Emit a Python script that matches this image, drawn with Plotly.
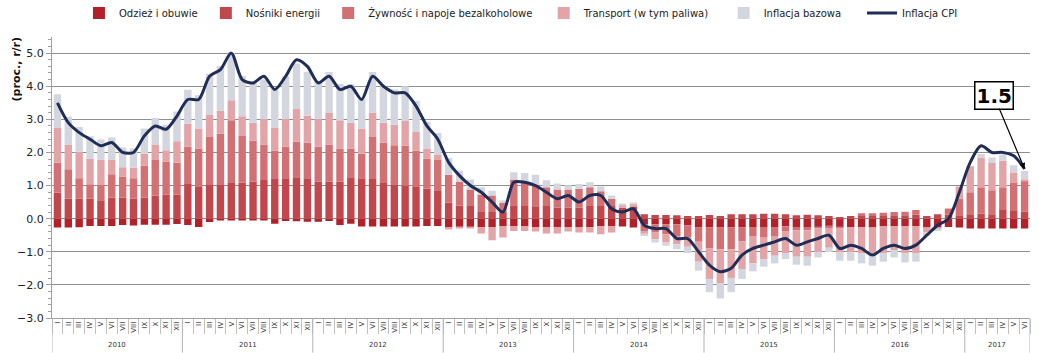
import plotly.graph_objects as go

# ---------------- data ----------------
months = ["I", "II", "III", "IV", "V", "VI", "VII", "VIII", "IX", "X", "XI", "XII"]
years = [2010, 2011, 2012, 2013, 2014, 2015, 2016, 2017]

odziez = [
    -0.27, -0.27, -0.26, -0.22, -0.22, -0.22, -0.19, -0.21, -0.18, -0.18, -0.18, -0.16,
    -0.19, -0.25, -0.10, -0.05, -0.03, -0.03, -0.03, -0.04, -0.15, -0.07, -0.08, -0.09,
    -0.09, -0.07, -0.19, -0.15, -0.24, -0.24, -0.24, -0.24, -0.24, -0.24, -0.22, -0.22,
    -0.25, -0.25, -0.25, -0.25, -0.25, -0.22, -0.22, -0.22, -0.25, -0.25, -0.25, -0.25,
    -0.25, -0.25, -0.22, -0.22, -0.24, -0.27, -0.17, -0.17, -0.17, -0.17, -0.20, -0.27,
    -0.27, -0.27, -0.27, -0.27, -0.25, -0.25, -0.25, -0.23, -0.25, -0.25, -0.25, -0.23,
    -0.25, -0.25, -0.25, -0.27, -0.22, -0.22, -0.22, -0.22, -0.27, -0.27, -0.25, -0.27,
    -0.30, -0.30, -0.30, -0.30, -0.30, -0.30,
]
nosniki = [
    0.78, 0.61, 0.61, 0.60, 0.56, 0.63, 0.63, 0.61, 0.63, 0.69, 0.72, 0.72,
    1.07, 0.96, 1.02, 1.02, 1.10, 1.09, 1.12, 1.19, 1.22, 1.22, 1.25, 1.22,
    1.12, 1.12, 1.12, 1.25, 1.22, 1.22, 1.10, 1.04, 1.00, 0.96, 0.90, 0.86,
    0.48, 0.40, 0.38, 0.20, 0.20, 0.20, 0.38, 0.38, 0.35, 0.38, 0.33, 0.33,
    0.33, 0.38, 0.38, 0.38, 0.33, 0.35, 0.13, 0.11, 0.11, 0.10, 0.08, 0.08,
    0.11, 0.08, 0.13, 0.13, 0.13, 0.15, 0.15, 0.13, 0.10, 0.12, 0.10, 0.08,
    0.05, 0.08, 0.10, 0.10, 0.10, 0.10, 0.10, 0.12, 0.08, 0.13, 0.12, 0.10,
    0.13, 0.15, 0.13, 0.26, 0.23, 0.22,
]
zywnosc = [
    0.91, 0.88, 0.61, 0.44, 0.46, 0.71, 0.64, 0.61, 0.97, 1.08, 1.01, 0.97,
    1.10, 1.16, 1.45, 1.55, 1.87, 1.41, 1.23, 1.05, 0.83, 0.95, 1.07, 1.07,
    1.05, 1.12, 1.00, 0.87, 0.75, 1.25, 1.19, 1.18, 1.20, 1.09, 0.92, 0.91,
    0.85, 0.71, 0.50, 0.53, 0.50, 0.28, 0.80, 0.70, 0.68, 0.57, 0.55, 0.55,
    0.57, 0.57, 0.45, 0.22, 0.00, 0.00, -0.20, -0.25, -0.30, -0.35, -0.35, -0.43,
    -0.63, -0.65, -0.65, -0.42, -0.27, -0.30, -0.27, -0.14, -0.10, -0.10, -0.05, -0.05,
    -0.05, 0.00, 0.06, 0.06, 0.08, 0.10, 0.11, 0.14, 0.00, 0.00, 0.19, 0.50,
    0.67, 0.80, 0.73, 0.69, 0.85, 0.92,
]
transport = [
    1.06, 0.75, 0.80, 0.78, 0.75, 0.45, 0.28, 0.32, 0.37, 0.47, 0.34, 0.65,
    0.70, 0.60, 0.66, 0.69, 0.61, 0.59, 0.55, 0.76, 0.69, 0.84, 0.99, 0.82,
    0.83, 0.95, 0.85, 0.78, 0.75, 0.74, 0.61, 0.62, 0.75, 0.57, 0.30, 0.15,
    -0.08, -0.05, -0.04, -0.20, -0.40, -0.35, -0.15, -0.15, -0.14, -0.20, -0.20, -0.14,
    -0.17, -0.17, -0.25, -0.20, 0.08, 0.10, -0.10, -0.20, -0.25, -0.25, -0.30, -0.60,
    -0.92, -1.04, -0.87, -0.83, -0.83, -0.67, -0.60, -0.68, -0.80, -0.80, -0.72, -0.60,
    -0.72, -0.77, -0.80, -0.85, -0.83, -0.73, -0.83, -0.83, -0.15, -0.05, 0.00, 0.37,
    0.78, 0.90, 0.82, 0.80, 0.30, 0.05,
]
bazowa = [
    1.01, 0.84, 0.75, 0.67, 0.62, 0.66, 0.60, 0.58, 0.75, 0.80, 0.77, 0.90,
    1.02, 1.01, 1.25, 1.35, 1.44, 1.22, 1.20, 1.20, 1.16, 1.29, 1.38, 1.33,
    1.16, 1.24, 1.10, 1.16, 0.89, 1.22, 1.10, 1.06, 1.05, 0.94, 0.80, 0.67,
    0.50, 0.34, 0.30, 0.22, 0.14, 0.07, 0.22, 0.30, 0.30, 0.21, 0.18, 0.13,
    0.15, 0.15, 0.14, 0.10, 0.03, 0.03, -0.05, -0.10, -0.10, -0.15, -0.19, -0.27,
    -0.40, -0.45, -0.43, -0.30, -0.24, -0.23, -0.23, -0.17, -0.24, -0.27, -0.15, -0.13,
    -0.25, -0.25, -0.30, -0.30, -0.25, -0.22, -0.27, -0.25, -0.10, -0.05, 0.00, 0.00,
    0.00, 0.10, 0.17, 0.19, 0.23, 0.25,
]
cpi = [
    3.5, 2.9, 2.6, 2.4, 2.2, 2.3, 2.0, 2.0, 2.5, 2.8, 2.7, 3.1,
    3.6, 3.6, 4.3, 4.5, 5.0, 4.2, 4.1, 4.3, 3.9, 4.3, 4.8, 4.6,
    4.1, 4.3, 3.9, 4.0, 3.6, 4.3, 4.0, 3.8, 3.8, 3.4, 2.8, 2.4,
    1.7, 1.3, 1.0, 0.8, 0.5, 0.2, 1.1, 1.1, 1.0, 0.8, 0.6, 0.7,
    0.5, 0.7, 0.7, 0.3, 0.2, 0.3, -0.2, -0.3, -0.3, -0.6, -0.6, -1.0,
    -1.4, -1.6, -1.5, -1.1, -0.9, -0.8, -0.7, -0.6, -0.8, -0.7, -0.6, -0.5,
    -0.9, -0.8, -0.9, -1.1, -0.9, -0.8, -0.9, -0.8, -0.5, -0.2, 0.0, 0.8,
    1.7, 2.2, 2.0, 2.0, 1.9, 1.5,
]
last_label = "1.5"

NB = "\u00a0"
series = [
    ("Odzież i obuwie", odziez, "#b2212a", 1),
    ("Nośniki energii", nosniki, "#c2474d", 1),
    ("Żywność i napoje bezalkoholowe", zywnosc, "#d27074", 2),
    ("Transport (w tym paliwa)", transport, "#e2a4a7", 3),
    ("Inflacja bazowa", bazowa, "#d3d6df", 5),
]

n = len(cpi)
x = list(range(n))
month_text = [months[i % 12] for i in range(n)]

fig = go.Figure()
for name, vals, color, pad in series:
    fig.add_trace(go.Bar(x=x, y=vals, name=name + NB * pad, marker_color=color,
                         marker_line_width=0, width=0.68))
fig.add_trace(go.Scatter(x=x, y=cpi, name="Inflacja CPI", mode="lines",
                         line=dict(color="#1f2d57", width=3, shape="spline", smoothing=0.8)))

# year separators and labels
shapes = []
annotations = []
for k, yr in enumerate(years):
    start = 12 * k
    idx = [i for i in x if start <= i < start + 12]
    shapes.append(dict(type="line", xref="x", yref="paper", x0=start - 0.5, x1=start - 0.5,
                       y0=0, y1=-0.123, line=dict(color="#b5b5b5", width=1)))
    annotations.append(dict(x=(idx[0] + idx[-1]) / 2, y=-0.095, xref="x", yref="paper",
                            text=str(yr), showarrow=False, yanchor="middle",
                            font=dict(size=7, color="#333333", family="DejaVu Sans")))
shapes.append(dict(type="line", xref="x", yref="paper", x0=n - 0.5, x1=n - 0.5,
                   y0=0, y1=-0.123, line=dict(color="#b5b5b5", width=1)))

annotations.append(dict(x=-0.036, y=0.886, xref="paper", yref="paper", xanchor="center",
                        yanchor="middle",
                        text="<b>(proc., r/r)</b>", textangle=-90, showarrow=False,
                        font=dict(size=11, color="#111111", family="DejaVu Sans")))
annotations.append(dict(x=n - 1, y=cpi[-1], xref="x", yref="y", text="<b>" + last_label + "</b>",
                        showarrow=True, ax=-31, ay=-74, arrowhead=2, arrowsize=1,
                        arrowwidth=1.2, arrowcolor="#000000",
                        bgcolor="#ffffff", bordercolor="#000000", borderwidth=1.5, borderpad=1,
                        font=dict(size=20, color="#000000", family="DejaVu Sans")))

fig.update_layout(
    width=1039, height=353,
    margin=dict(l=52, r=9, t=34, b=35),
    paper_bgcolor="#ffffff", plot_bgcolor="#ffffff",
    barmode="relative", bargap=0.32,
    font=dict(family="DejaVu Sans", size=11, color="#222222"),
    showlegend=True,
    legend=dict(orientation="h", xref="container", yref="container",
                x=0.076, y=0.963, xanchor="left", yanchor="middle",
                font=dict(size=10, color="#222222", family="DejaVu Sans"),
                itemwidth=30, tracegroupgap=0, bgcolor="rgba(0,0,0,0)"),
    shapes=shapes,
    annotations=annotations,
)
fig.update_xaxes(range=[-0.5, n - 0.5], tickmode="array", tickvals=x, ticktext=month_text,
                 tickangle=-90, tickfont=dict(size=7, color="#333333"), ticks="",
                 showline=True, linecolor="#a0a0a0", linewidth=1, showgrid=False, zeroline=False,
                 minor=dict(tickmode="array", tickvals=[i - 0.5 for i in range(n + 1)],
                            ticks="outside", ticklen=15, tickcolor="#c0c0c0", showgrid=False))
fig.update_yaxes(range=[-3, 5.5], tickmode="array", tickvals=list(range(-3, 6)), tickformat=".1f",
                 tickfont=dict(size=11, color="#222222"),
                 showgrid=True, gridcolor="#8f8f8f", gridwidth=1, zeroline=False,
                 showline=True, linecolor="#a0a0a0", ticks="outside", ticklen=5, tickcolor="#a0a0a0",
                 minor=dict(dtick=0.2, tick0=0, ticks="outside", ticklen=3, tickcolor="#a0a0a0",
                            showgrid=False))

fig.write_html("out.html")
